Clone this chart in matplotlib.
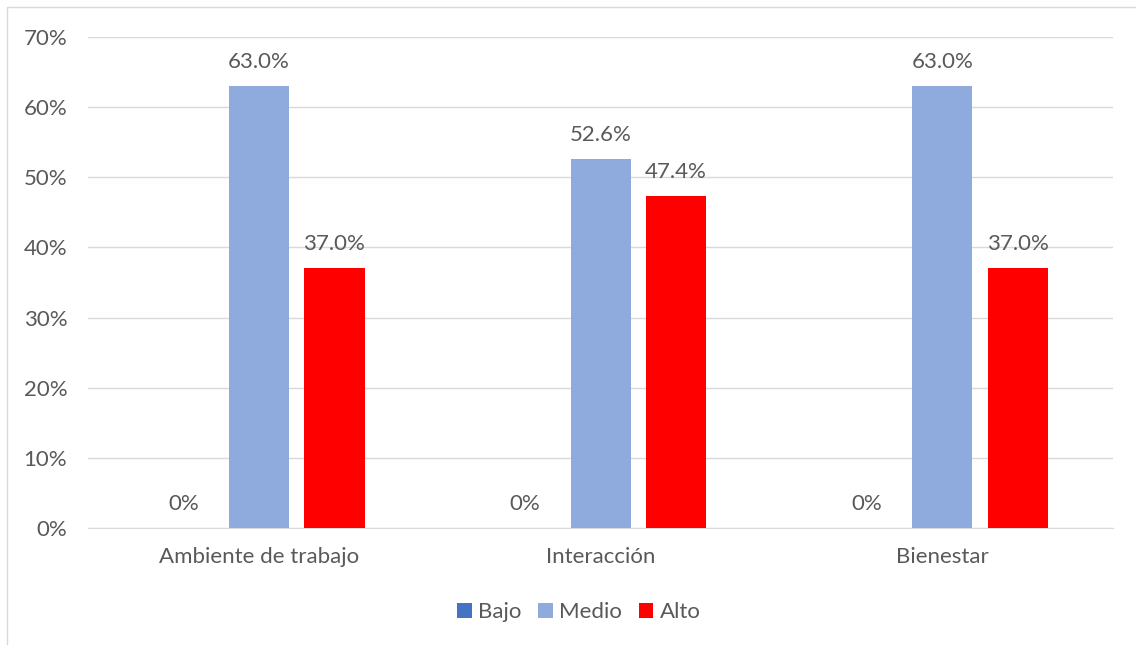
import matplotlib
matplotlib.use("Agg")
import matplotlib.pyplot as plt
from matplotlib.patches import Rectangle
import numpy as np

categories = ["Ambiente de trabajo", "Interacción", "Bienestar"]
series_names = ["Bajo", "Medio", "Alto"]
bajo = [0.0, 0.0, 0.0]
medio = [63.0, 52.6, 63.0]
alto = [37.0, 47.4, 37.0]
bajo_labels = ["0%", "0%", "0%"]
medio_labels = ["63.0%", "52.6%", "63.0%"]
alto_labels = ["37.0%", "47.4%", "37.0%"]
colors = ["#4472C4", "#8FAADC", "#FF0000"]

plt.rcParams['font.family'] = ['Lato', 'DejaVu Sans']
txt = "#595959"
fs = 16

fig = plt.figure(figsize=(11.36, 6.45), dpi=100)
ax = fig.add_axes([0.0775, 0.1814, 0.9025, 0.7612])

# chart border
fig.patches.append(Rectangle((7 / 1136, -0.1), 1.2, 1.1 - 7 / 645,
                             transform=fig.transFigure, fill=False,
                             edgecolor="#D9D9D9", linewidth=1))

x = np.arange(len(categories))
w = 0.176
off = 0.221
all_vals = [bajo, medio, alto]
all_labels = [bajo_labels, medio_labels, alto_labels]
for i, (vals, labs) in enumerate(zip(all_vals, all_labels)):
    pos = x + (i - 1) * off
    ax.bar(pos, vals, width=w, color=colors[i], label=series_names[i], zorder=3)
    for p, v, l in zip(pos, vals, labs):
        ax.text(p, v + 2.0, l, ha="center", va="bottom", fontsize=fs, color=txt)

ax.set_xlim(-0.5, 2.5)
ax.set_ylim(0, 70)
ax.set_yticks(range(0, 71, 10))
ax.set_yticklabels([f"{t}%" for t in range(0, 71, 10)])
ax.set_xticks(x)
ax.set_xticklabels(categories)
ax.tick_params(axis="both", length=0, labelsize=fs, labelcolor=txt)
ax.tick_params(axis="y", pad=15)
ax.tick_params(axis="x", pad=14)
ax.grid(axis="y", color="#D9D9D9", linewidth=1, zorder=0)
for s in ["top", "right", "left"]:
    ax.spines[s].set_visible(False)
ax.spines["bottom"].set_color("#D9D9D9")

leg = fig.legend(loc="center", bbox_to_anchor=(579 / 1136, 1 - 612 / 645), ncol=3,
                 frameon=False, fontsize=fs, handlelength=0.65, handleheight=0.65,
                 handletextpad=0.3, columnspacing=0.75)
for t in leg.get_texts():
    t.set_color(txt)

fig.savefig("out.png", dpi=100)
